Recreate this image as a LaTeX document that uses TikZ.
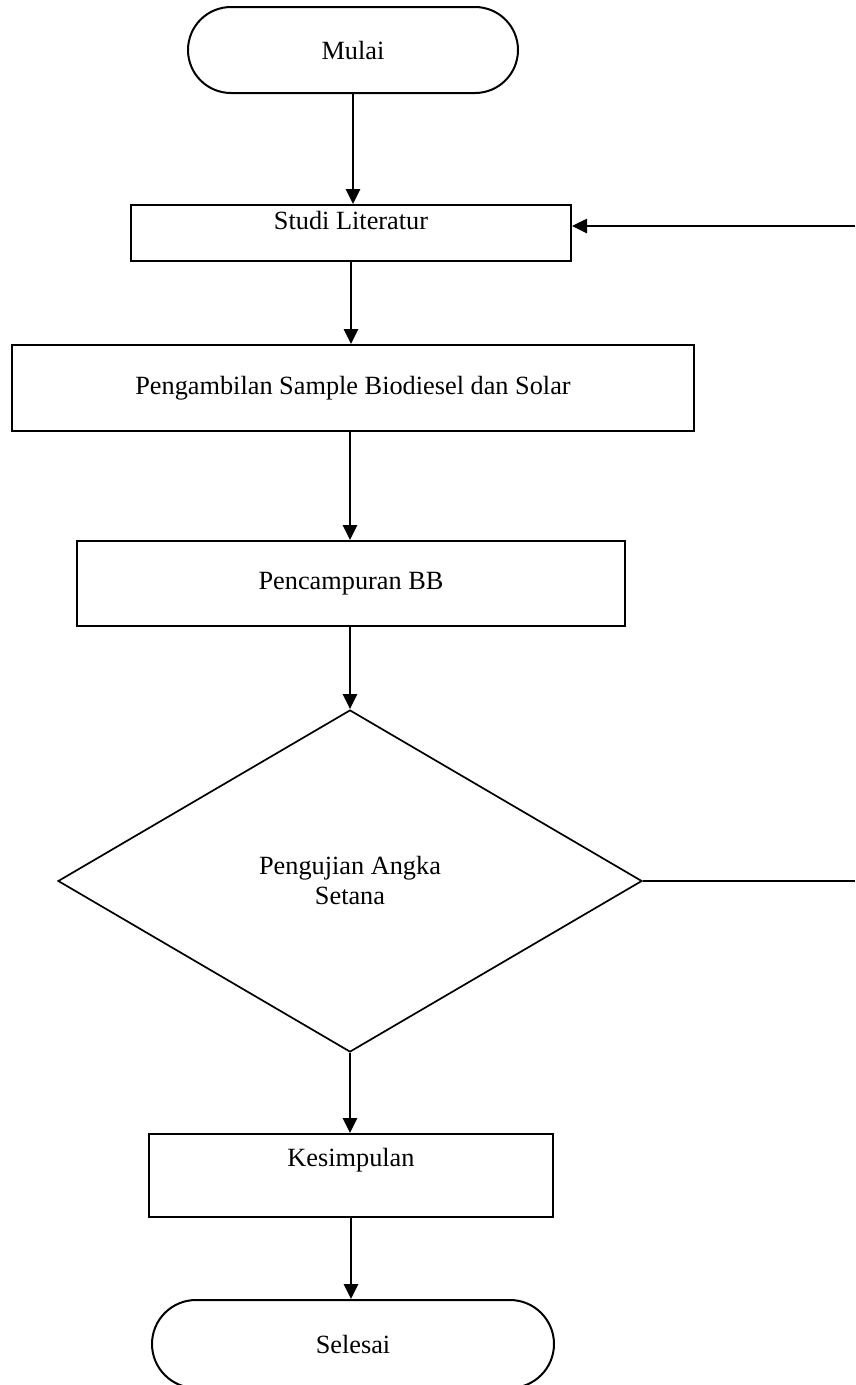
\documentclass[tikz,border=0pt]{standalone}
\usepackage{fontspec}
\setmainfont{Liberation Serif}
\usetikzlibrary{arrows.meta,shapes.geometric}
\begin{document}
\begin{tikzpicture}[x=1pt,y=-1pt,
  proc/.style={draw,line width=2pt,inner sep=0pt},
  term/.style={draw,line width=2pt,inner sep=0pt,rounded corners=43pt},
  dec/.style={draw,diamond,line width=1.7pt,inner sep=0pt},
  flow/.style={line width=2.6pt,-{Triangle[length=15pt,width=14pt]}},
  conn/.style={line width=2.4pt},
  lbl/.style={font=\fontsize{26.3}{30}\selectfont,align=center,inner sep=0pt}]
\useasboundingbox (0,0) rectangle (855,1385);
\node[term,lbl,minimum width=330pt,minimum height=86pt] (mulai) at (353,50) {Mulai};
\node[proc,minimum width=440pt,minimum height=56pt] (studi) at (351,233) {};
\node[lbl] (studiT) at (351,220) {Studi Literatur};
\node[proc,lbl,minimum width=682pt,minimum height=86pt] (ambil) at (353,388) {Pengambilan Sample Biodiesel dan Solar};
\node[proc,lbl,minimum width=548pt,minimum height=85pt] (campur) at (351,583.5) {Pencampuran BB};
\node[dec,minimum width=584pt,minimum height=342pt] (uji) at (350,881) {};
\node[lbl] (ujiT) at (350,880) {Pengujian Angka\\Setana};
\node[proc,minimum width=404pt,minimum height=83pt] (kes) at (351,1175.5) {};
\node[lbl] (kesT) at (351,1160) {Kesimpulan};
\node[term,lbl,minimum width=402pt,minimum height=88pt,rounded corners=44pt] (selesai) at (353,1344) {Selesai};
\coordinate (r1) at (855,881);
\coordinate (r2) at (855,226);
\draw[flow] (mulai.south) -- (mulai.south |- studi.north);
\draw[flow] (studi.south) -- (studi.south |- ambil.north);
\draw[flow] (uji.north |- ambil.south) -- (uji.north |- campur.north);
\draw[flow] (uji.north |- campur.south) -- (uji.north);
\draw[flow] (uji.south) -- (uji.south |- kes.north);
\draw[flow] (kes.south) -- (kes.south |- selesai.north);
\draw[conn] (uji.east) -- (r1);
\draw[flow] (r2) -- (r2 -| studi.east);
\end{tikzpicture}
\end{document}
